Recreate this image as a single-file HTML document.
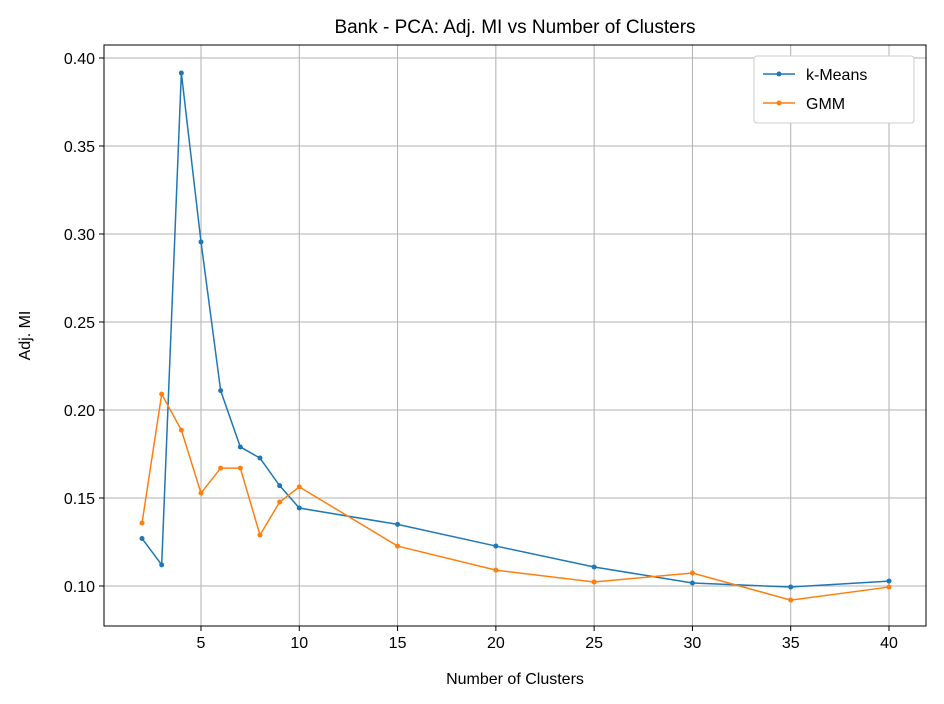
<!DOCTYPE html>
<html><head><meta charset="utf-8"><style>body{margin:0;background:#fff}svg{display:block;font-family:"Liberation Sans","DejaVu Sans",sans-serif}</style></head>
<body>
<svg id="c" width="944" height="704"></svg>
<script>
const categories=[2,3,4,5,6,7,8,9,10,15,20,25,30,35,40];
const kmeansValues=[0.127,0.112,0.3915,0.2955,0.211,0.179,0.1727,0.157,0.1443,0.135,0.1227,0.1108,0.1017,0.0994,0.1028];
const gmmValues=[0.1358,0.209,0.1886,0.1528,0.167,0.167,0.129,0.1477,0.1563,0.1227,0.109,0.1023,0.1074,0.092,0.0994];
const xTicks=[5,10,15,20,25,30,35,40];
const yTicks=[0.10,0.15,0.20,0.25,0.30,0.35,0.40];
const L=104,R=926,T=45,B=626;
const xs=v=>201+(v-5)*(688/35);
const ys=v=>586-(v-0.10)*(528/0.30);
const svg=document.getElementById('c');const NS='http://www.w3.org/2000/svg';
function mk(t,a,p){const e=document.createElementNS(NS,t);for(const k in a)e.setAttribute(k,a[k]);(p||svg).appendChild(e);return e;}
const grid=mk('g',{});


xTicks.forEach(v=>{const x=xs(v);mk('line',{x1:x,x2:x,y1:T,y2:B,stroke:'#b0b0b0','stroke-width':1},grid);mk('line',{x1:x,x2:x,y1:B,y2:B+5,stroke:'#000'});const t=mk('text',{x:x,y:B+22,'text-anchor':'middle','font-size':16});t.textContent=v;});
yTicks.forEach(v=>{const y=ys(v);mk('line',{x1:L,x2:R,y1:y,y2:y,stroke:'#b0b0b0','stroke-width':1},grid);mk('line',{x1:L-5,x2:L,y1:y,y2:y,stroke:'#000'});const t=mk('text',{x:L-9,y:y+6,'text-anchor':'end','font-size':16});t.textContent=v.toFixed(2);});
function series(vals,col,name){const g=mk('g',{});
mk('polyline',{points:categories.map((c,i)=>xs(c)+','+ys(vals[i])).join(' '),fill:'none',stroke:col,'stroke-width':1.5},g);
categories.forEach((c,i)=>mk('circle',{cx:xs(c),cy:ys(vals[i]),r:2.5,fill:col},g));}
series(kmeansValues,'#1f77b4','kmeans-series');
series(gmmValues,'#ff7f0e','gmm-series');
const fr=mk('rect',{x:L,y:T,width:R-L,height:B-T,fill:'none',stroke:'#000','stroke-width':1});

const ti=mk('text',{x:(L+R)/2,y:33,'text-anchor':'middle','font-size':19});ti.textContent='Bank - PCA: Adj. MI vs Number of Clusters';
const xl=mk('text',{x:(L+R)/2,y:684,'text-anchor':'middle','font-size':16});xl.textContent='Number of Clusters';
const yl=mk('text',{x:30,y:(T+B)/2,'text-anchor':'middle','font-size':16,transform:'rotate(-90 30 '+(T+B)/2+')'});yl.textContent='Adj. MI';
const lg=mk('g',{});
mk('rect',{x:754,y:56,width:160,height:67,fill:'#fff',stroke:'#ccc',rx:3},lg);
[['k-Means','#1f77b4',74],['GMM','#ff7f0e',103]].forEach(([n,c,y])=>{mk('line',{x1:763,x2:795,y1:y,y2:y,stroke:c,'stroke-width':1.5},lg);mk('circle',{cx:779,cy:y,r:2.5,fill:c},lg);const t=mk('text',{x:806,y:y+6,'font-size':16},lg);t.textContent=n;});
</script>
</body></html>
